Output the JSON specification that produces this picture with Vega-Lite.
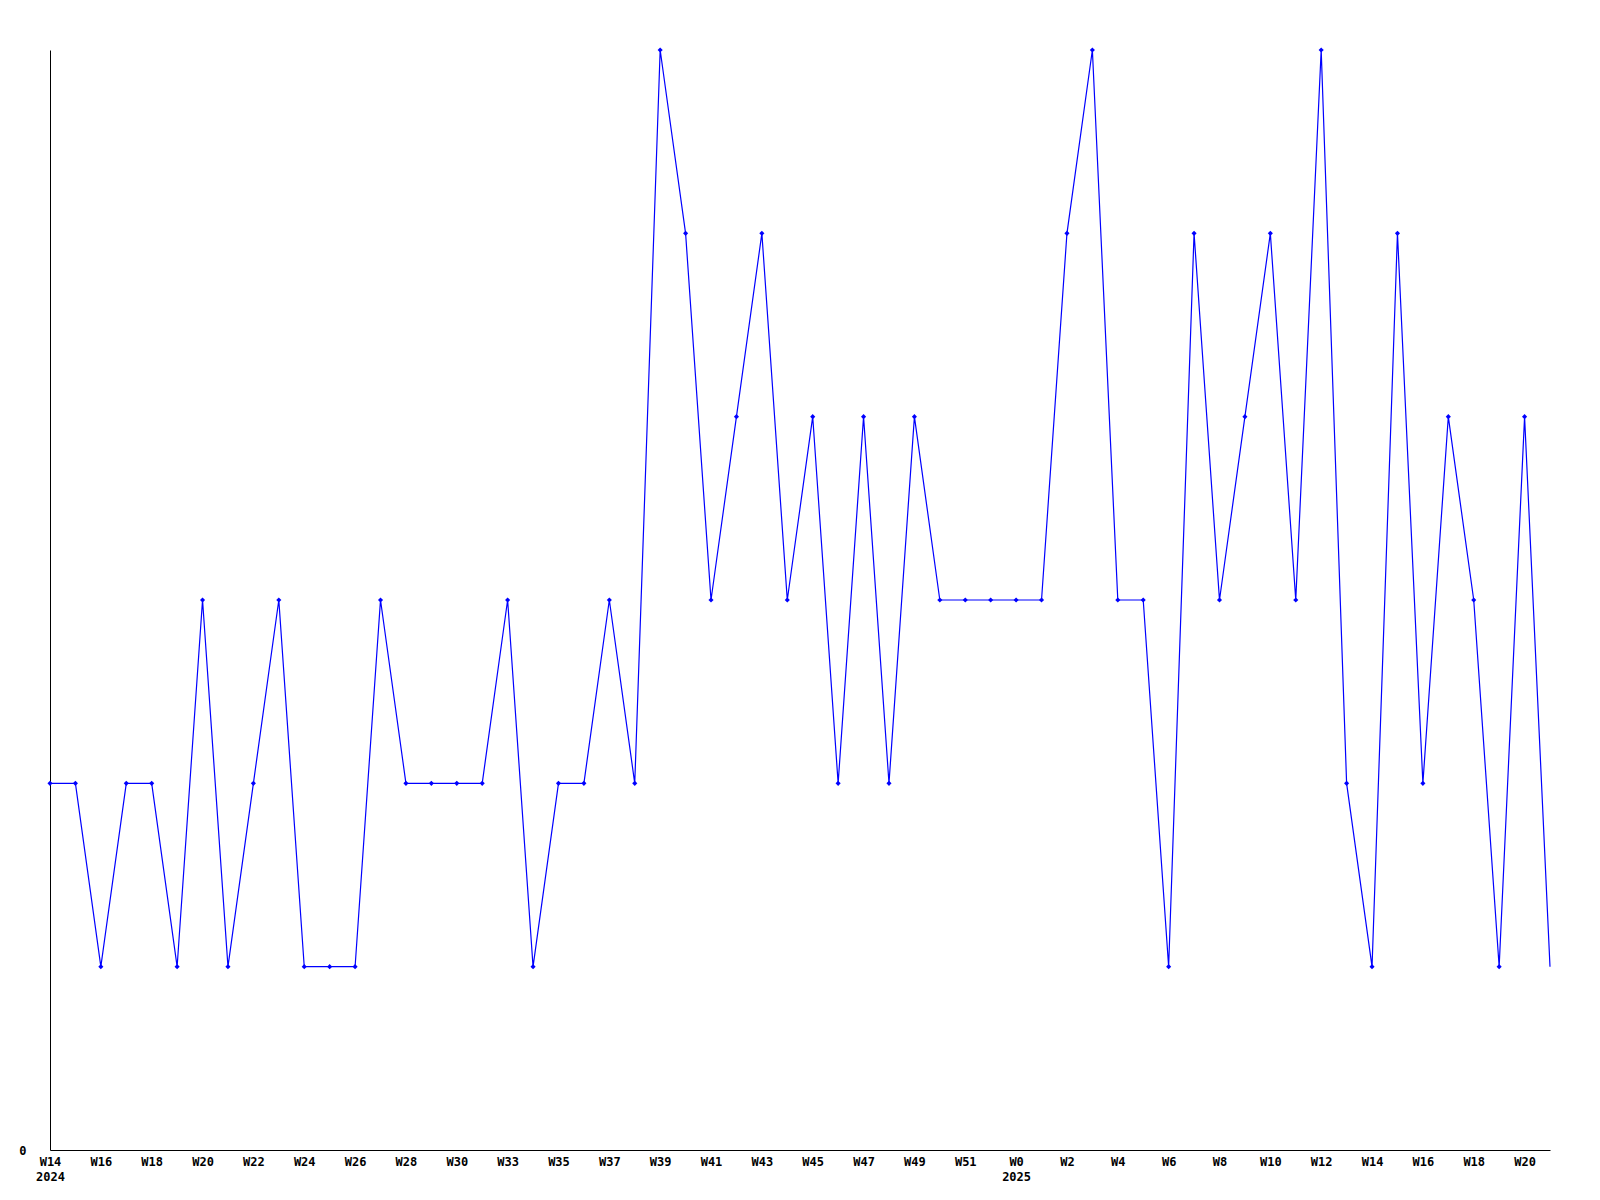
{
  "$schema": "https://vega.github.io/schema/vega-lite/v6.json",
  "width": 1500,
  "height": 1100,
  "autosize": {"type": "none"},
  "padding": {"left": 50, "top": 50, "right": 50, "bottom": 50},
  "background": "white",
  "config": {
    "view": {"stroke": null},
    "axis": {"labelFont": "DejaVu Sans Mono", "labelFontWeight": "bold", "labelFontSize": 12, "labelColor": "black", "domainColor": "black", "domainWidth": 1, "ticks": false, "grid": false, "title": null}
  },
  "data": {"values": [
    {"week": "2024-W14", "v": 2}, {"week": "2024-W15", "v": 2}, {"week": "2024-W16", "v": 1}, {"week": "2024-W17", "v": 2},
    {"week": "2024-W18", "v": 2}, {"week": "2024-W19", "v": 1}, {"week": "2024-W20", "v": 3}, {"week": "2024-W21", "v": 1},
    {"week": "2024-W22", "v": 2}, {"week": "2024-W23", "v": 3}, {"week": "2024-W24", "v": 1}, {"week": "2024-W25", "v": 1},
    {"week": "2024-W26", "v": 1}, {"week": "2024-W27", "v": 3}, {"week": "2024-W28", "v": 2}, {"week": "2024-W29", "v": 2},
    {"week": "2024-W30", "v": 2}, {"week": "2024-W31", "v": 2}, {"week": "2024-W33", "v": 3}, {"week": "2024-W34", "v": 1},
    {"week": "2024-W35", "v": 2}, {"week": "2024-W36", "v": 2}, {"week": "2024-W37", "v": 3}, {"week": "2024-W38", "v": 2},
    {"week": "2024-W39", "v": 6}, {"week": "2024-W40", "v": 5}, {"week": "2024-W41", "v": 3}, {"week": "2024-W42", "v": 4},
    {"week": "2024-W43", "v": 5}, {"week": "2024-W44", "v": 3}, {"week": "2024-W45", "v": 4}, {"week": "2024-W46", "v": 2},
    {"week": "2024-W47", "v": 4}, {"week": "2024-W48", "v": 2}, {"week": "2024-W49", "v": 4}, {"week": "2024-W50", "v": 3},
    {"week": "2024-W51", "v": 3}, {"week": "2024-W52", "v": 3}, {"week": "2025-W0", "v": 3}, {"week": "2025-W1", "v": 3},
    {"week": "2025-W2", "v": 5}, {"week": "2025-W3", "v": 6}, {"week": "2025-W4", "v": 3}, {"week": "2025-W5", "v": 3},
    {"week": "2025-W6", "v": 1}, {"week": "2025-W7", "v": 5}, {"week": "2025-W8", "v": 3}, {"week": "2025-W9", "v": 4},
    {"week": "2025-W10", "v": 5}, {"week": "2025-W11", "v": 3}, {"week": "2025-W12", "v": 6}, {"week": "2025-W13", "v": 2},
    {"week": "2025-W14", "v": 1}, {"week": "2025-W15", "v": 5}, {"week": "2025-W16", "v": 2}, {"week": "2025-W17", "v": 4},
    {"week": "2025-W18", "v": 3}, {"week": "2025-W19", "v": 1}, {"week": "2025-W20", "v": 4}, {"week": "2025-W21", "v": 1}
  ]},
  "encoding": {
    "x": {
      "field": "week", "type": "ordinal", "sort": null,
      "scale": {"type": "point", "padding": 0},
      "axis": {
        "labelAngle": 0, "labelPadding": 6, "labelLineHeight": 15, "labelBaseline": "top",
        "values": ["2024-W14","2024-W16","2024-W18","2024-W20","2024-W22","2024-W24","2024-W26","2024-W28","2024-W30","2024-W33","2024-W35","2024-W37","2024-W39","2024-W41","2024-W43","2024-W45","2024-W47","2024-W49","2024-W51","2025-W0","2025-W2","2025-W4","2025-W6","2025-W8","2025-W10","2025-W12","2025-W14","2025-W16","2025-W18","2025-W20"],
        "labelExpr": "datum.value == '2024-W14' ? ['W14', '2024'] : (datum.value == '2025-W0' ? ['W0', '2025'] : split(datum.value, '-')[1])",
        "labelOverlap": false
      }
    },
    "y": {
      "field": "v", "type": "quantitative",
      "scale": {"domain": [0, 6], "nice": false, "zero": true},
      "axis": {"values": [0], "labelPadding": 24, "labelBaseline": "middle"}
    }
  },
  "layer": [
    {"mark": {"type": "line", "color": "#0000ff", "strokeWidth": 1.2}},
    {
      "transform": [{"filter": "datum.week != '2025-W21'"}],
      "mark": {"type": "point", "shape": "diamond", "filled": true, "color": "#0000ff", "size": 26, "opacity": 1}
    }
  ]
}
